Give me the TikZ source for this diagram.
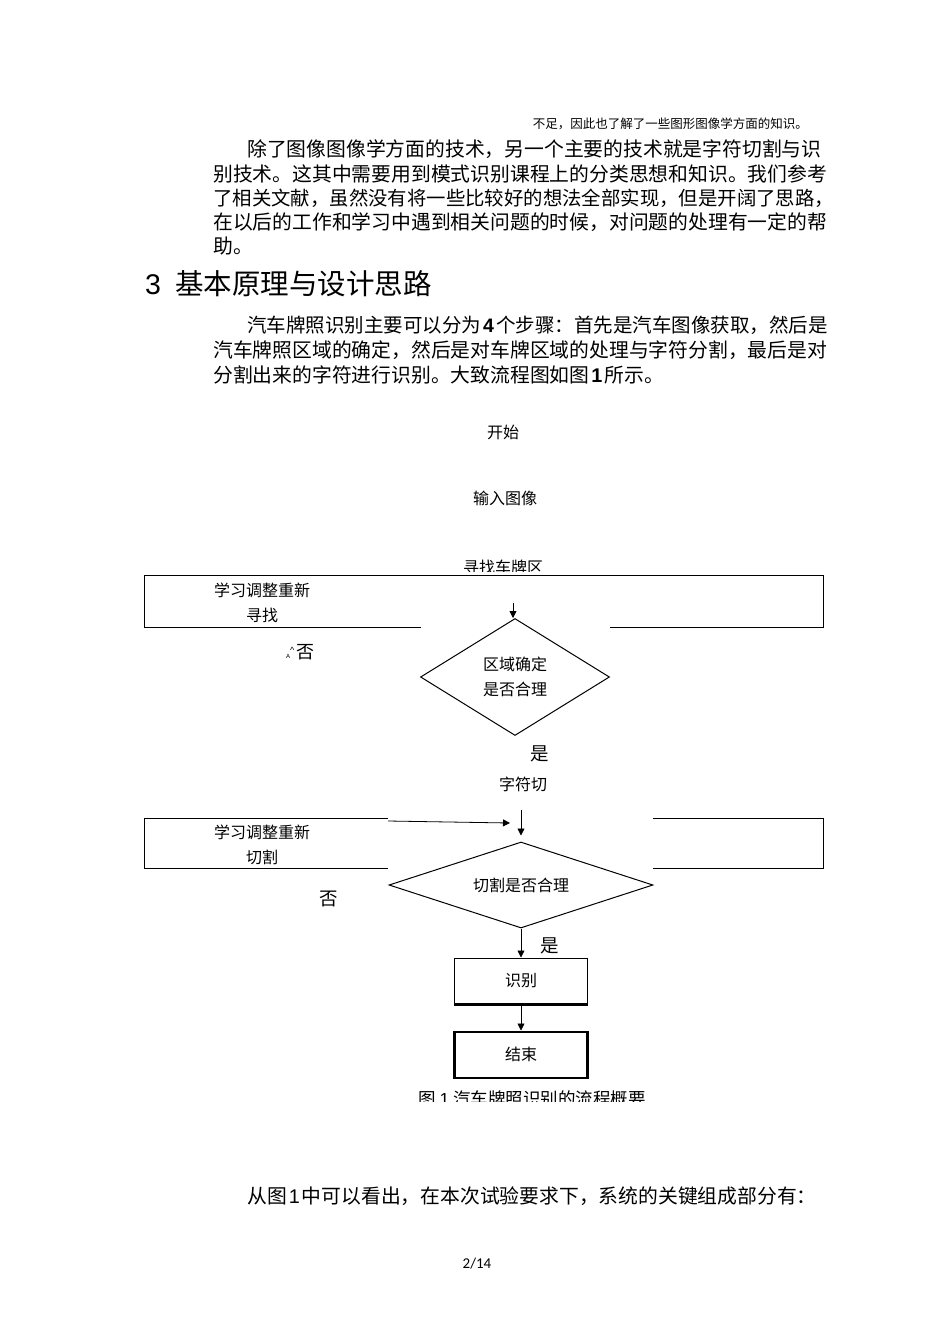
\documentclass[tikz,border=0pt]{standalone}
\usepackage{fontspec}
\setmainfont{Noto Sans CJK SC}
\newfontfamily\latinfont{Liberation Sans}
\newfontfamily\pagefont{Carlito}
\usetikzlibrary{positioning,shapes.geometric,arrows.meta}

\tikzset{
  body/.style={anchor=west, inner sep=0pt, font=\fontsize{19.8}{19.8}\selectfont},
  small/.style={inner sep=0pt, font=\fontsize{12.5}{12.5}\selectfont},
  head/.style={anchor=west, inner sep=0pt, font=\fontsize{28.5}{28.5}\selectfont},
  lbl/.style={inner sep=0pt, align=center, font=\fontsize{16}{25}\selectfont},
  yesno/.style={inner sep=0pt, font=\fontsize{18.5}{18.5}\selectfont},
  frame/.style={line width=1pt},
  proc/.style={rectangle, draw, line width=1pt, minimum width=133pt, minimum height=46pt, font=\fontsize{16}{16}\selectfont},
  dec/.style={diamond, draw, line width=1pt, inner sep=0pt, align=center, font=\fontsize{16}{25}\selectfont},
  edge/.style={-{Triangle[length=7pt,width=7pt]}, line width=0.8pt}
}

\begin{document}
\begin{tikzpicture}[x=1pt,y=-1pt]
\useasboundingbox[fill=white] (0,0) rectangle (950,1344);

% text before the figure
\node[small, anchor=east] (prev) at (808,124) {不足，因此也了解了一些图形图像学方面的知识。};
\node[body] (p1a) at (247,149) {除了图像图像学方面的技术，另一个主要的技术就是字符切割与识};
\node[body] (p1b) at (213,174) {别技术。这其中需要用到模式识别课程上的分类思想和知识。我们参考};
\node[body, font=\fontsize{19.4}{19.4}\selectfont] (p1c) at (213,198) {了相关文献，虽然没有将一些比较好的想法全部实现，但是开阔了思路，};
\node[body] (p1d) at (213,222) {在以后的工作和学习中遇到相关问题的时候，对问题的处理有一定的帮};
\node[body] (p1e) at (213,246) {助。};
\node[head] (sec) at (145,284) {{\latinfont 3}\hspace{14pt}基本原理与设计思路};
\node[body, font=\fontsize{19.5}{19.5}\selectfont] (p2a) at (247,325) {汽车牌照识别主要可以分为\hspace{2pt}{\latinfont\bfseries 4}\hspace{2pt}个步骤：首先是汽车图像获取，然后是};
\node[body] (p2b) at (213,350) {汽车牌照区域的确定，然后是对车牌区域的处理与字符分割，最后是对};
\node[body] (p2c) at (213,375) {分割出来的字符进行识别。大致流程图如图\hspace{2pt}{\latinfont\bfseries 1}\hspace{2pt}所示。};

% flow chart
\node[lbl] (start) at (503,432) {开始};
\node[lbl] (input) at (505,498) {输入图像};
\begin{scope}
  \clip (0,0) rectangle (950,571);
  \node[lbl] (find) at (503,567) {寻找车牌区};
\end{scope}

\draw[frame] (421,627) -- (144,627) -- (144,575) -- (823,575) -- (823,627) -- (610,627); %
\node[lbl] (redo1) at (262,603) {学习调整重新\\寻找};
\node[dec, shape aspect=1.6, minimum width=189pt, minimum height=117pt] (d1) at (515,677) {区域确定\\是否合理};
\coordinate (t1) at (513,603);
\draw[edge] (t1) -- (t1 |- d1.north) ; %
\node[lbl, anchor=west] (no1) at (286,652) {{\latinfont\fontsize{6}{6}\selectfont A}\raisebox{5pt}{\latinfont\fontsize{9}{9}\selectfont\textasciicircum}\hspace{2pt}{\fontsize{18}{18}\selectfont 否}};
\node[yesno] (yes1) at (540,754) {是};
\node[lbl] (cut) at (523,784) {字符切};

\draw[frame] (388,868) -- (144,868) -- (144,818) -- (388,818); %
\draw[frame] (653,818) -- (823,818) -- (823,868) -- (653,868); %
\node[lbl] (redo2) at (262,845) {学习调整重新\\切割};
\node[dec, shape aspect=3, minimum width=264pt, minimum height=86pt] (d2) at (521,885) {切割是否合理};
\coordinate (t2) at (521,810);
\draw[edge, shorten >=6pt] (t2) -- (d2.north) ; %
\coordinate (r2) at (388,821);
\coordinate (m2) at (510,823);
\draw[edge] (r2) -- (m2) ; %
\node[yesno] (no2) at (329,899) {否};

\node[proc] (rec) at (521,981) {识别};
\draw[line width=2.2pt] (rec.south west) -- (rec.south east) ; %
\draw[edge] (d2.south) -- (rec.north) ; %
\node[yesno] (yes2) at (550,946) {是};
\node[proc, line width=2.4pt, below=26pt of rec] (end) {结束};
\draw[edge] (rec) -- (end) ; %

\begin{scope}
  \clip (0,0) rectangle (950,1101);
  \node[lbl, font=\fontsize{17.5}{17.5}\selectfont] (cap) at (532,1099) {图 {\latinfont 1} 汽车牌照识别的流程概要};
\end{scope}

% text after the figure
\node[body] (p3) at (247,1196) {从图\hspace{2pt}{\latinfont 1}\hspace{2pt}中可以看出，在本次试验要求下，系统的关键组成部分有：};
\node[inner sep=0pt, font=\pagefont\fontsize{15}{15}\selectfont] (page) at (477,1264) {2/14};

\end{tikzpicture}
\end{document}
